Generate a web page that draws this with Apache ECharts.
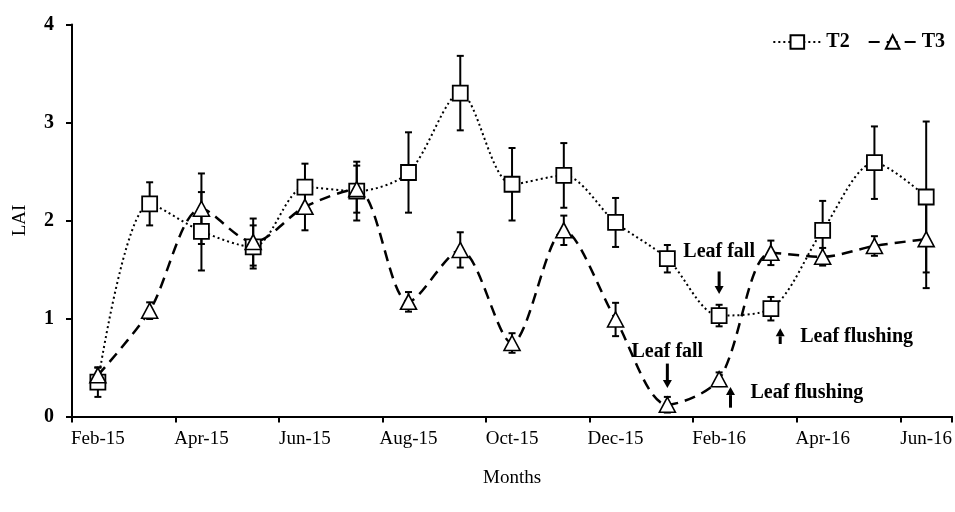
<!DOCTYPE html>
<html>
<head>
<meta charset="utf-8">
<script src="https://cdn.jsdelivr.net/npm/echarts@6/dist/echarts.min.js"></script>
<style>
  html, body { margin: 0; padding: 0; background: #fff; }
  #chart { width: 955px; height: 512px; }
</style>
</head>
<body>
<div id="chart"></div>
<script>
// Monthly leaf area index (LAI) for two treatments, with standard error bars.
const months = ['Feb-15', 'Mar-15', 'Apr-15', 'May-15', 'Jun-15', 'Jul-15', 'Aug-15', 'Sep-15',
  'Oct-15', 'Nov-15', 'Dec-15', 'Jan-16', 'Feb-16', 'Mar-16', 'Apr-16', 'May-16', 'Jun-16'];

const t2 = [0.35, 2.17, 1.89, 1.73, 2.34, 2.30, 2.49, 3.30, 2.37, 2.46, 1.98, 1.61, 1.03, 1.10, 1.90, 2.59, 2.24];
const t2Err = [0.15, 0.22, 0.40, 0.22, 0.24, 0.30, 0.41, 0.38, 0.37, 0.33, 0.25, 0.14, 0.11, 0.12, 0.30, 0.37, 0.77];

const t3 = [0.42, 1.08, 2.12, 1.78, 2.14, 2.32, 1.17, 1.70, 0.75, 1.90, 0.99, 0.12, 0.38, 1.67, 1.63, 1.74, 1.81];
const t3Err = [0.08, 0.085, 0.36, 0.24, 0.24, 0.24, 0.10, 0.18, 0.10, 0.15, 0.17, 0.08, 0.07, 0.125, 0.09, 0.10, 0.50];

const yTicks = [0, 1, 2, 3, 4];

// Phenology notes: month, value where the text sits, arrow tail/head values,
// and the arrow's sideways shift in category widths.
const notes = [
  { text: 'Leaf fall',     month: 'Feb-16', textAt: 1.68, tail: 1.48, head: 1.25, shift: 0,    side: 'above' },
  { text: 'Leaf fall',     month: 'Jan-16', textAt: 0.66, tail: 0.54, head: 0.29, shift: 0,    side: 'above' },
  { text: 'Leaf flushing', month: 'Mar-16', textAt: 0.815, tail: 0.74, head: 0.90, shift: 0.18, side: 'right' },
  { text: 'Leaf flushing', month: 'Feb-16', textAt: 0.237, tail: 0.09, head: 0.30, shift: 0.22, side: 'right' }
];

const SERIF = '"Liberation Serif", "Times New Roman", serif';

function errorBars(name, values, errs) {
  return {
    type: 'custom',
    name: name + ' error',
    silent: true,
    z: 1,
    encode: { x: 0, y: [1, 2] },
    data: values.map((v, i) => [i, v - errs[i], v + errs[i]]),
    renderItem(params, api) {
      const lo = api.coord([api.value(0), api.value(1)]);
      const hi = api.coord([api.value(0), api.value(2)]);
      const w = 3.5;
      const style = { stroke: '#000', lineWidth: 2 };
      return {
        type: 'group',
        children: [
          { type: 'line', shape: { x1: hi[0], y1: hi[1], x2: lo[0], y2: lo[1] }, style },
          { type: 'line', shape: { x1: hi[0] - w, y1: hi[1], x2: hi[0] + w, y2: hi[1] }, style },
          { type: 'line', shape: { x1: lo[0] - w, y1: lo[1], x2: lo[0] + w, y2: lo[1] }, style }
        ]
      };
    }
  };
}

const noteSeries = {
  type: 'custom',
  name: 'notes',
  silent: true,
  z: 5,
  encode: { x: 0, y: 1 },
  data: notes.map(n => [months.indexOf(n.month), n.textAt, n.tail, n.head]),
  renderItem(params, api) {
    const n = notes[params.dataIndex];
    const band = api.size([1, 0])[0];
    const idx = api.value(0);
    const base = api.coord([idx, api.value(1)]);
    const tail = api.coord([idx, api.value(2)]);
    const head = api.coord([idx, api.value(3)]);
    const ax = base[0] + n.shift * band;
    const dir = head[1] > tail[1] ? 1 : -1;
    const headLen = 8, headHalf = 4.5;
    const neck = head[1] - dir * headLen;
    const font = 'bold 20px ' + SERIF;
    const textEl = n.side === 'above'
      ? { type: 'text', x: ax, y: base[1], style: { text: n.text, fill: '#000', font, align: 'center', verticalAlign: 'middle' } }
      : { type: 'text', x: ax + 20, y: base[1], style: { text: n.text, fill: '#000', font, align: 'left', verticalAlign: 'middle' } };
    return {
      type: 'group',
      children: [
        { type: 'line', shape: { x1: ax, y1: tail[1], x2: ax, y2: neck }, style: { stroke: '#000', lineWidth: 3 } },
        { type: 'polygon', shape: { points: [[ax - headHalf, neck], [ax + headHalf, neck], [ax, head[1]]] }, style: { fill: '#000' } },
        textEl
      ]
    };
  }
};

const chart = echarts.init(document.getElementById('chart'), null, { renderer: 'canvas' });

chart.setOption({
  animation: false,
  backgroundColor: '#fff',
  textStyle: { fontFamily: SERIF, color: '#000' },
  grid: { left: 72, right: 1, top: 24.5, bottom: 95.5, containLabel: false },
  legend: {
    right: 5,
    top: 27,
    itemWidth: 48,
    itemHeight: 17,
    itemGap: 18,
    data: ['T2', 'T3'],
    textStyle: { fontFamily: SERIF, fontWeight: 'bold', fontSize: 20, color: '#000' }
  },
  xAxis: {
    type: 'category',
    data: months,
    boundaryGap: true,
    name: 'Months',
    nameLocation: 'middle',
    nameGap: 52,
    nameTextStyle: { fontFamily: SERIF, fontSize: 19, color: '#000' },
    axisLine: { lineStyle: { color: '#000', width: 2 } },
    axisTick: { show: true, inside: false, length: 6, lineStyle: { color: '#000', width: 2 } },
    axisLabel: { interval: 1, margin: 13, fontFamily: SERIF, fontSize: 19, color: '#000' },
    splitLine: { show: false }
  },
  yAxis: {
    type: 'value',
    min: yTicks[0],
    max: yTicks[yTicks.length - 1],
    interval: 1,
    name: 'LAI',
    nameLocation: 'middle',
    nameGap: 42,
    nameRotate: 90,
    nameTextStyle: { fontFamily: SERIF, fontSize: 19, color: '#000' },
    axisLine: { show: true, lineStyle: { color: '#000', width: 2 } },
    axisTick: { show: true, inside: false, length: 6, lineStyle: { color: '#000', width: 2 } },
    axisLabel: { margin: 18, fontFamily: SERIF, fontSize: 20, fontWeight: 'bold', color: '#000' },
    splitLine: { show: false }
  },
  series: [
    errorBars('T2', t2, t2Err),
    errorBars('T3', t3, t3Err),
    {
      name: 'T2',
      type: 'line',
      data: t2,
      smooth: 0.3,
      z: 3,
      symbol: 'rect',
      symbolSize: 15,
      showAllSymbol: true,
      lineStyle: { color: '#000', width: 2, type: [2, 3] },
      itemStyle: { color: '#fff', borderColor: '#000', borderWidth: 1.8 }
    },
    {
      name: 'T3',
      type: 'line',
      data: t3,
      smooth: 0.3,
      z: 3,
      symbol: 'triangle',
      symbolSize: [16, 15],
      showAllSymbol: true,
      lineStyle: { color: '#000', width: 2.5, type: [11, 7] },
      itemStyle: { color: '#fff', borderColor: '#000', borderWidth: 1.6 }
    },
    noteSeries
  ]
});
</script>
</body>
</html>
